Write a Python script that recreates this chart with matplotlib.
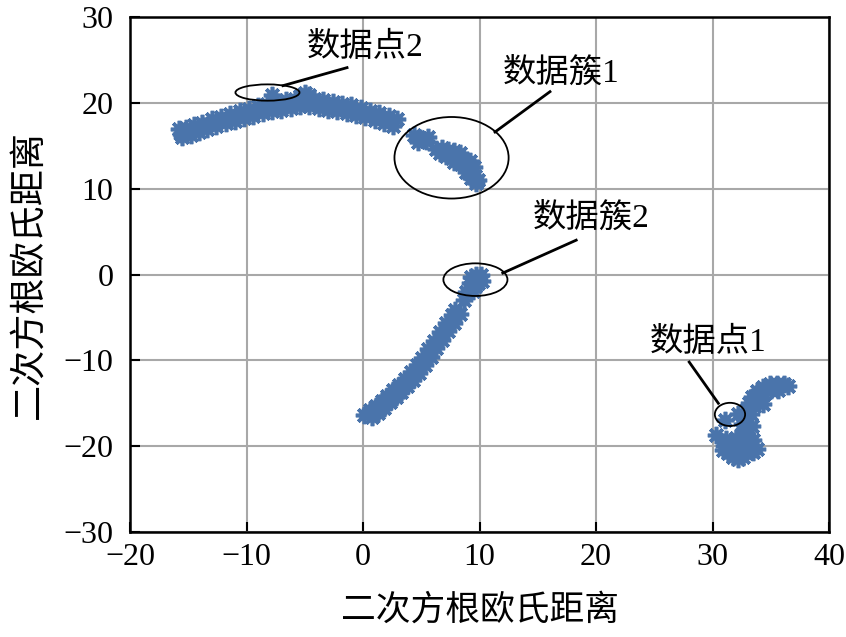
import matplotlib
matplotlib.use("Agg")
import matplotlib.pyplot as plt
from matplotlib.patches import Ellipse

plt.rcParams['font.family'] = ['Liberation Serif', 'Noto Sans CJK SC']
plt.rcParams['axes.unicode_minus'] = True

# top arc (two rows of points give the band its thickness)
arc_x = [-15.8, -15.2, -14.5, -13.8, -13.0, -12.2, -11.4, -10.6, -9.8, -9.0, -8.2, -7.4, -6.6,
         -5.8, -5.0, -4.2, -3.4, -2.6, -1.8, -1.0, -0.2, 0.6, 1.4, 2.2, 2.9,
         -15.5, -14.8, -14.1, -13.4, -12.6, -11.8, -11.0, -10.2, -9.4, -8.6, -7.8, -7.0, -6.2,
         -5.4, -4.6, -3.8, -3.0, -2.2, -1.4, -0.6, 0.2, 1.0, 1.8, 2.6,
         -5.0, -4.6, -5.4, -15.6, -15.0]
arc_y = [16.9, 17.1, 17.4, 17.7, 18.1, 18.4, 18.7, 19.0, 19.3, 19.6, 19.9, 20.1, 20.3,
         20.5, 20.7, 20.5, 20.3, 20.1, 19.9, 19.7, 19.4, 19.1, 18.8, 18.5, 18.1,
         16.0, 16.3, 16.6, 16.9, 17.3, 17.6, 17.9, 18.2, 18.5, 18.8, 19.0, 19.2, 19.4,
         19.6, 19.6, 19.4, 19.2, 19.0, 18.8, 18.6, 18.3, 18.0, 17.7, 17.3,
         21.1, 20.9, 20.8, 16.4, 16.6]

# isolated point (数据点2)
pt2_x = [-7.8]
pt2_y = [20.9]

# cluster 1
c1_x = [4.4, 4.9, 5.4, 4.7, 5.6,
        6.3, 6.8, 7.3, 7.8, 8.3, 6.6, 7.1, 7.6, 8.1, 8.6, 7.8, 8.4, 8.9, 9.0,
        9.3, 9.6, 9.9, 8.8, 9.3, 9.7, 9.2, 7.0, 8.0, 8.7, 9.5]
c1_y = [16.2, 15.9, 15.5, 15.4, 16.0,
        14.6, 14.7, 14.5, 14.4, 14.2, 14.1, 13.8, 13.6, 13.6, 13.5, 13.1, 12.9, 13.0, 12.4,
        12.0, 11.5, 11.0, 11.9, 11.3, 10.7, 13.2, 14.2, 13.9, 12.8, 12.5]

# lower diagonal band + cluster 2
c2_x = [0.1, 0.6, 1.1, 1.6, 2.1, 2.6, 3.1, 3.6, 4.1, 4.6, 5.1, 5.6, 6.1, 6.6, 7.1, 7.6, 7.9,
        0.8, 1.3, 1.8, 2.3, 2.8, 3.3, 3.8, 4.3, 4.8, 5.3, 5.8, 6.3, 6.8, 7.3, 7.8, 8.3,
        8.7,
        8.8, 9.1, 9.4, 9.2, 9.6, 9.9, 9.5, 9.9, 10.1, 9.7, 9.3, 10.2]
c2_y = [-16.4, -15.8, -15.3, -14.7, -14.1, -13.5, -12.9, -12.2, -11.4, -10.6, -9.7, -8.7,
        -7.7, -6.7, -5.7, -4.7, -4.1,
        -16.6, -16.1, -15.5, -14.9, -14.3, -13.7, -13.0, -12.3, -11.5, -10.6, -9.6, -8.6,
        -7.6, -6.6, -5.6, -4.6,
        -3.0,
        -2.0, -1.6, -1.9, -1.0, -1.3, -1.0, -0.6, -0.4, -0.1, 0.0, -0.3, -0.7]

# right group: blob, hook, scattered points (incl. 数据点1)
c3_x = [31.2, 32.0, 32.8, 33.5, 31.0, 31.8, 32.6, 33.4, 33.8, 31.3, 32.1, 32.9, 33.5,
        31.8, 32.6, 30.9, 31.6, 32.4, 33.1, 31.5, 32.3, 33.2, 32.2,
        32.6, 32.5, 32.7, 32.9, 33.1, 33.4, 33.8, 34.3, 34.9, 35.5, 36.1, 36.5,
        33.3, 33.6, 33.9, 34.4, 35.0, 35.6,
        34.3, 31.1, 32.2, 30.3, 33.4, 33.0]
c3_y = [-19.2, -19.0, -19.0, -19.3, -20.0, -20.0, -20.0, -20.0, -20.3, -20.8, -20.9, -20.8,
        -20.7, -21.3, -21.3, -20.4, -19.5, -19.5, -19.6, -20.4, -20.4, -20.4, -21.5,
        -18.2, -17.4, -16.6, -15.8, -15.0, -14.3, -13.6, -13.1, -12.8, -12.7, -12.8, -13.0,
        -16.2, -15.3, -14.5, -13.9, -13.5, -13.4,
        -15.1, -16.9, -16.3, -18.7, -17.7, -18.6]

# ellipses: center x, center y, width, height
ell_cx = [-8.2, 7.6, 9.65, 31.5]
ell_cy = [21.2, 13.6, -0.6, -16.3]
ell_w = [5.5, 9.8, 5.5, 2.6]
ell_h = [1.9, 9.5, 3.8, 2.7]

# annotations
ann_text = ['数据点2', '数据簇1', '数据簇2', '数据点1']
ann_tx = [0.2, 17.0, 19.6, 29.6]
ann_ty = [26.4, 23.5, 6.6, -7.9]
line_x0 = [-6.87, 11.33, 12.0, 30.5]
line_y0 = [22.0, 16.6, 0.17, -15.0]
line_x1 = [-1.37, 16.05, 18.3, 28.0]
line_y1 = [24.1, 21.3, 4.0, -10.2]

xticks = [-20, -10, 0, 10, 20, 30, 40]
yticks = [-30, -20, -10, 0, 10, 20, 30]

color = '#4a74ab'

fig = plt.figure(figsize=(8.46, 6.37), dpi=100)
ax = fig.add_axes([130 / 846, 1 - 532 / 637, 699 / 846, 515 / 637])

for xs, ys in [(arc_x, arc_y), (pt2_x, pt2_y), (c1_x, c1_y), (c2_x, c2_y), (c3_x, c3_y)]:
    ax.plot(xs, ys, linestyle='none', marker=(8, 2, 0), markersize=12.5,
            markeredgewidth=2.6, color=color, zorder=3)

for cx, cy, w, h in zip(ell_cx, ell_cy, ell_w, ell_h):
    ax.add_patch(Ellipse((cx, cy), w, h, fill=False, edgecolor='black', linewidth=1.3, zorder=4))

for i in range(len(ann_text)):
    ax.plot([line_x0[i], line_x1[i]], [line_y0[i], line_y1[i]], color='black', linewidth=2, zorder=4)
    ax.text(ann_tx[i], ann_ty[i], ann_text[i], ha='center', va='center', fontsize=24, zorder=5)

ax.set_xlim(-20, 40)
ax.set_ylim(-30, 30)
ax.set_xticks(xticks)
ax.set_yticks(yticks)
ax.grid(True, color='#a8a8a8', linewidth=1.5)
ax.set_axisbelow(True)
ax.tick_params(direction='in', length=7, width=1.5, labelsize=23, pad=8)
ax.tick_params(axis='y', pad=12)
for s in ax.spines.values():
    s.set_linewidth(1.8)

ax.set_xlabel('二次方根欧氏距离', fontsize=25, labelpad=16)
ax.set_ylabel('二次方根欧氏距离', fontsize=26, labelpad=12)

fig.savefig('out.png', dpi=100)
